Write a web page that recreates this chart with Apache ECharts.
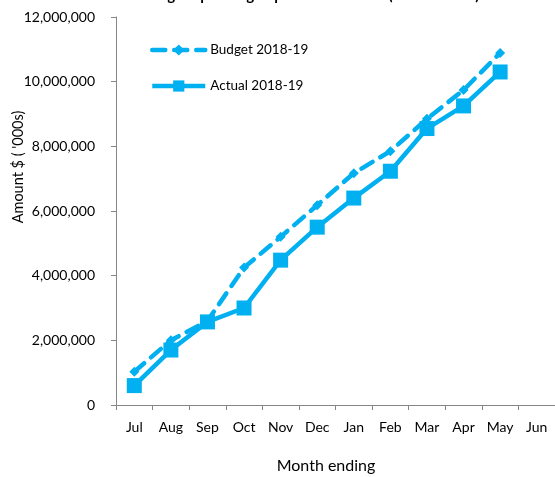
<!DOCTYPE html>
<html>
<head>
<meta charset="utf-8">
<script src="https://cdn.jsdelivr.net/npm/echarts@6/dist/echarts.min.js"></script>
<style>
  html, body { margin: 0; padding: 0; background: #fff; }
  #chart { width: 555px; height: 477px; }
</style>
</head>
<body>
<div id="chart"></div>
<script>
// Month-end cumulative spending, in thousands of dollars
const months = ['Jul', 'Aug', 'Sep', 'Oct', 'Nov', 'Dec', 'Jan', 'Feb', 'Mar', 'Apr', 'May', 'Jun'];
const budget = [1030000, 2000000, 2600000, 4250000, 5200000, 6180000, 7170000, 7850000, 8850000, 9740000, 10890000, null];
const actual = [600000, 1700000, 2570000, 3000000, 4480000, 5500000, 6400000, 7230000, 8550000, 9250000, 10300000, null];
const yTicks = [0, 2000000, 4000000, 6000000, 8000000, 10000000, 12000000];

const blue = '#00B0F0';
const font = 'Lato, "Open Sans", sans-serif';

const chart = echarts.init(document.getElementById('chart'), null, { renderer: 'canvas' });

chart.setOption({
  animation: false,
  backgroundColor: '#ffffff',
  title: {
    text: 'Budget Spending Expenses vs Actual (Year to Date)',
    left: 305,
    textAlign: 'center',
    top: -17,
    textStyle: { fontFamily: font, fontSize: 15, fontWeight: 'bold', color: '#000' }
  },
  legend: {
    orient: 'vertical',
    left: 145,
    top: 38,
    itemWidth: 53,
    itemHeight: 14,
    itemGap: 22,
    lineStyle: { width: 4.5 },
    textStyle: { fontFamily: font, fontSize: 13.5, color: '#000' },
    data: ['Budget 2018-19', 'Actual 2018-19']
  },
  grid: { left: 116, top: 17, width: 444, height: 388, containLabel: false },
  xAxis: {
    type: 'category',
    data: months,
    boundaryGap: true,
    axisLine: { lineStyle: { color: '#868686', width: 1 } },
    axisTick: { show: true, length: 5, lineStyle: { color: '#868686' } },
    axisLabel: { fontFamily: font, fontSize: 14, color: '#000', margin: 15 }
  },
  yAxis: {
    type: 'value',
    min: yTicks[0],
    max: yTicks[yTicks.length - 1],
    interval: yTicks[1] - yTicks[0],
    splitLine: { show: false },
    axisLine: { show: true, lineStyle: { color: '#868686', width: 1 } },
    axisTick: { show: true, length: 5, lineStyle: { color: '#868686' } },
    axisLabel: {
      fontFamily: font, fontSize: 14, color: '#000', margin: 21,
      formatter: v => v.toLocaleString('en-US')
    }
  },
  graphic: [
    {
      type: 'text',
      x: 326, y: 466,
      style: {
        text: 'Month ending', fontFamily: font, fontSize: 16, fill: '#000',
        align: 'center', verticalAlign: 'middle'
      }
    },
    {
      type: 'text',
      x: 18, y: 167, rotation: Math.PI / 2,
      style: {
        text: "Amount $ ( '000s)", fontFamily: font, fontSize: 14.5, fill: '#000',
        align: 'center', verticalAlign: 'middle'
      }
    }
  ],
  series: [
    {
      name: 'Budget 2018-19',
      type: 'line',
      data: budget,
      symbol: 'diamond',
      symbolSize: 10,
      itemStyle: { color: blue },
      lineStyle: { color: blue, width: 4.5, type: [13, 9], cap: 'round' },
      z: 2
    },
    {
      name: 'Actual 2018-19',
      type: 'line',
      data: actual,
      symbol: 'rect',
      symbolSize: 15,
      itemStyle: { color: blue },
      lineStyle: { color: blue, width: 4.5 },
      z: 3
    }
  ]
});
</script>
</body>
</html>
